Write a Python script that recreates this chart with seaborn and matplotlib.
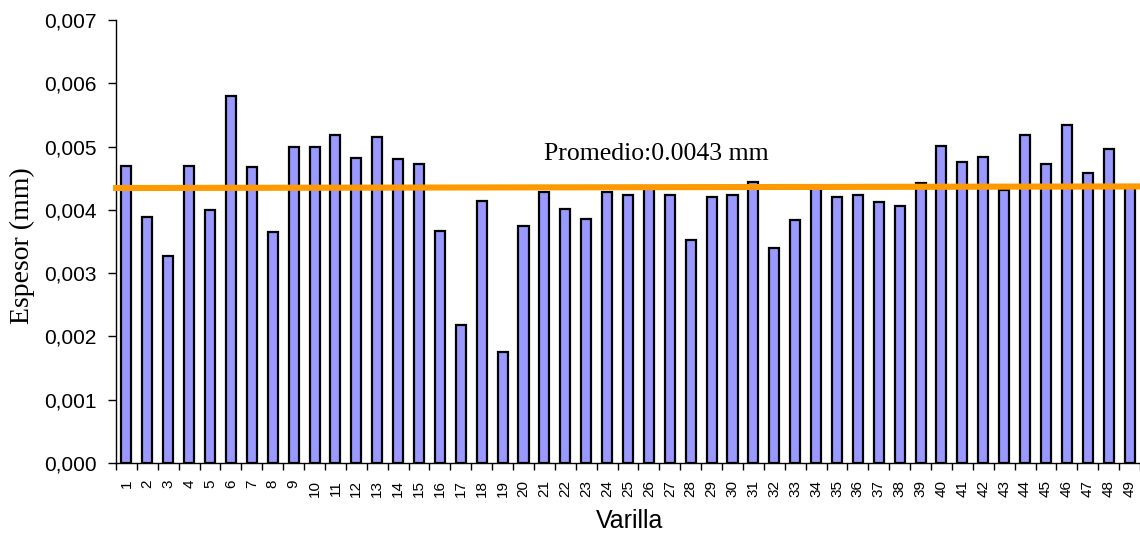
import matplotlib
matplotlib.use("Agg")
import matplotlib.pyplot as plt
import matplotlib.ticker as mticker
import seaborn as sns
import pandas as pd
import numpy as np

# ---- data ----
varilla = [str(i) for i in range(1, 50)]
espesor = [0.00470, 0.00389, 0.00327, 0.00470, 0.00399, 0.00580, 0.00467, 0.00365,
           0.00500, 0.00500, 0.00519, 0.00482, 0.00515, 0.00480, 0.00472, 0.00366,
           0.00218, 0.00414, 0.00175, 0.00375, 0.00429, 0.00401, 0.00385, 0.00428,
           0.00423, 0.00436, 0.00423, 0.00353, 0.00421, 0.00423, 0.00444, 0.00339,
           0.00384, 0.00435, 0.00421, 0.00424, 0.00413, 0.00406, 0.00443, 0.00501,
           0.00475, 0.00484, 0.00431, 0.00518, 0.00473, 0.00534, 0.00459, 0.00496,
           0.00436]
avg_x = [-0.64, 48.5]
avg_y = [0.004345, 0.00437]
avg_text = "Promedio:0.0043 mm"
y_ticks = [0.000, 0.001, 0.002, 0.003, 0.004, 0.005, 0.006, 0.007]

df = pd.DataFrame({"Varilla": varilla, "Espesor": espesor})

sns.set_theme(style="white")
plt.rcParams["font.family"] = ["Liberation Sans", "DejaVu Sans"]
plt.rcParams["text.color"] = "black"
plt.rcParams["axes.labelcolor"] = "black"
plt.rcParams["xtick.color"] = "black"
plt.rcParams["ytick.color"] = "black"

fig = plt.figure(figsize=(11.4, 5.34), dpi=100)
ax = fig.add_axes([116 / 1140, 71 / 534, 1024 / 1140, 443 / 534])

sns.barplot(data=df, x="Varilla", y="Espesor", color="#9999FF", saturation=1,
            edgecolor="black", linewidth=1.6, width=0.48, ax=ax)

ax.plot(avg_x, avg_y, color="#FF9900", linewidth=4.4, solid_capstyle="butt",
        clip_on=False, zorder=5)

ax.text(25.36, 0.00478, avg_text, ha="center", va="baseline",
        fontsize=18.5, family=["Liberation Serif", "DejaVu Serif"], color="black")

ax.set_xlim(-0.5, 48.5)
ax.set_ylim(0, 0.007)
ax.set_yticks(y_ticks)
ax.yaxis.set_major_formatter(mticker.FuncFormatter(lambda v, p: f"{v:.3f}".replace(".", ",")))

# x: ticks at category boundaries, labels at centers
ax.set_xticks(np.arange(-0.5, 49, 1.0))
ax.set_xticklabels([])
ax.set_xticks(np.arange(0, 49), minor=True)
ax.set_xticklabels(varilla, minor=True, rotation=90, fontsize=11)
ax.tick_params(axis="x", which="major", length=5, width=1, color="black", direction="out", bottom=True)
ax.tick_params(axis="x", which="minor", length=0, pad=12, labelcolor="black")
ax.tick_params(axis="y", which="major", length=6, width=1, color="black", direction="out",
               left=True, labelsize=15, pad=8, labelcolor="black")

for s in ["top", "right"]:
    ax.spines[s].set_visible(False)
for s in ["left", "bottom"]:
    ax.spines[s].set_color("black")
    ax.spines[s].set_linewidth(1.0)

ax.set_xlabel("Varilla", fontsize=18, va="center", color="black")
ax.xaxis.set_label_coords((630 - 116) / 1024, (463 - 521) / 443)
ax.set_ylabel("Espesor (mm)", fontsize=20, va="center", color="black",
              family=["Liberation Serif", "DejaVu Serif"])
ax.yaxis.set_label_coords((22 - 116) / 1024, (463 - 246) / 443)
ax.grid(False)

fig.savefig("out.png", dpi=100)
